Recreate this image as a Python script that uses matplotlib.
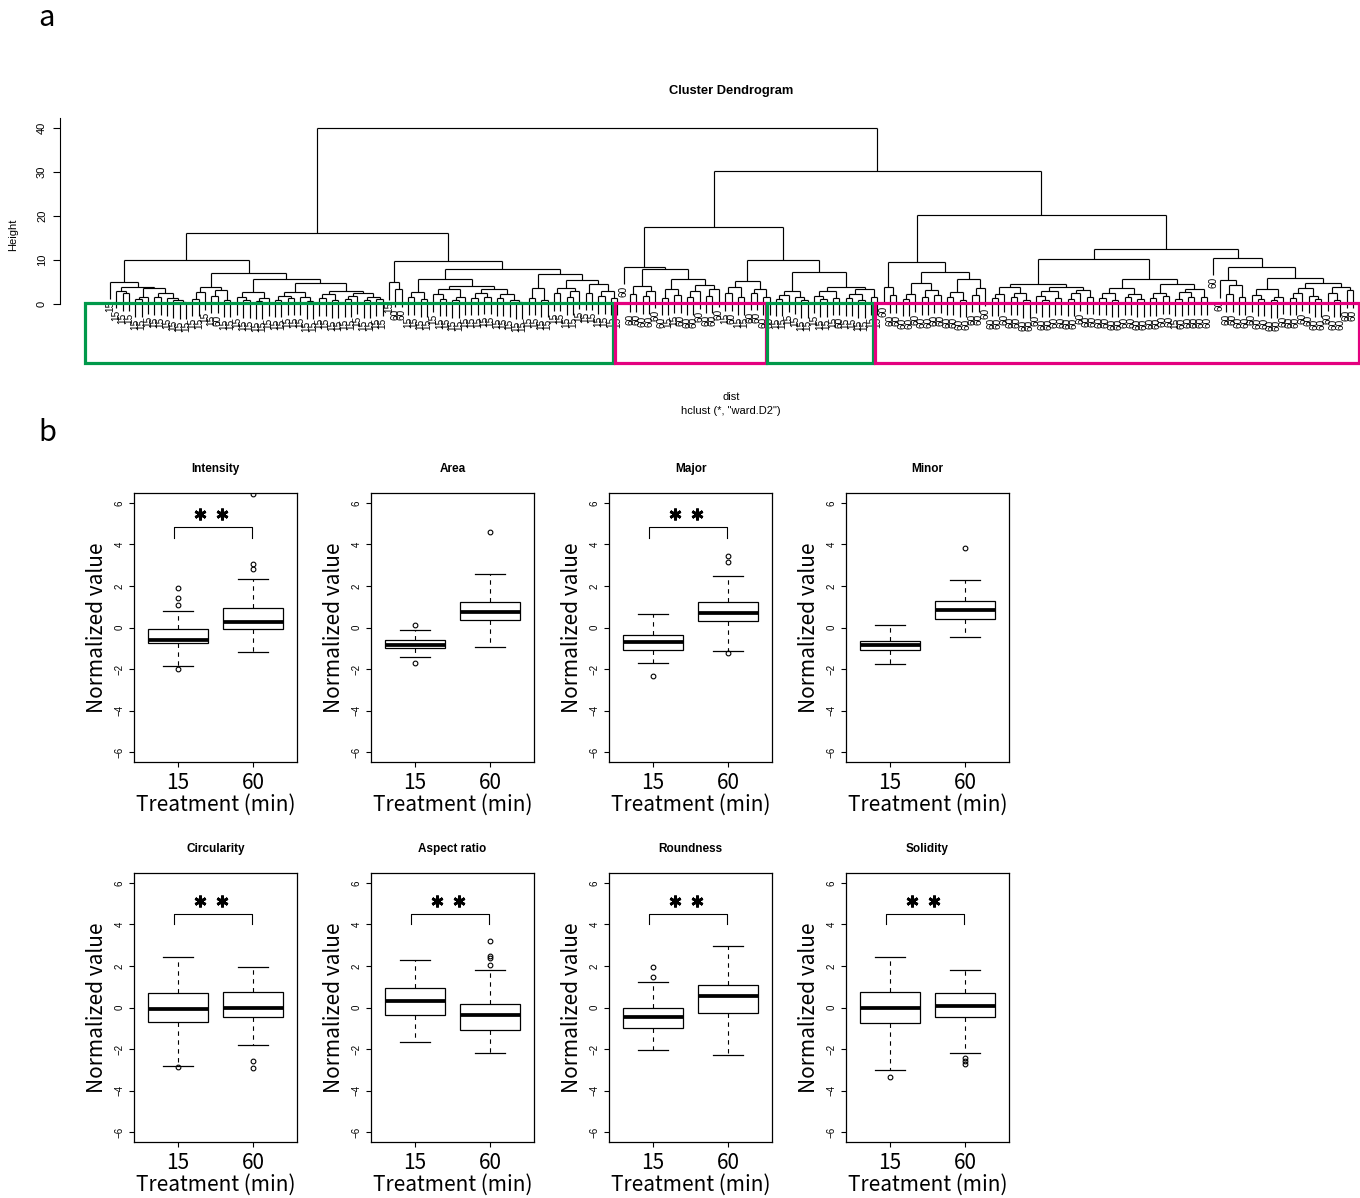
import matplotlib
matplotlib.use("Agg")
import matplotlib.pyplot as plt
from matplotlib.collections import LineCollection
from matplotlib.patches import Rectangle

# ======================= DATA =======================
# --- dendrogram (hclust, "ward.D2"); "(height left right)", leaf a = 15 min, b = 60 min
LLA = "(5.07 a (3.94 (3.03 a (2.4 a a)) (3.6 (1.7 (1.1 a a) a) (2.4 (1.5 a a) (1.3 a (0.8 a (0.5 a a)))))))"
LLB_L = "(3.94 (2.65 (1.2 a a) a) (3.2 (1.9 a b) (1.0 a a)))"
LLB_R = ("(5.68 (2.65 (1.6 a (0.9 a a)) (1.3 (0.6 a a) a)) (4.85 (2.8 (1.9 (1.0 a a) (1.4 a a)) (1.6 a (0.7 a a)))"
         " (3.0 (2.2 (1.3 a a) (0.9 a a)) (2.5 (1.8 (1.1 a a) a) (1.5 (0.8 a a) (1.2 a a))))))")
LRA = "(4.92 a (3.3 b b))"
LRB_L = ("(5.6 (2.65 (1.5 a a) (1.1 a a)) (4.17 (3.5 (2.3 a (1.2 a a)) (1.6 (0.9 a a) a))"
         " (3.3 (2.5 (1.4 a a) (1.7 a a)) (2.2 (1.3 a a) (1.0 a (0.5 a a))))))")
LRB_R = "(6.9 (3.6 (1.4 a a) (1.0 a a)) (5.4 (3.7 (2.4 a a) (2.9 (1.6 a a) a)) (4.6 (2.6 a a) (3.0 (1.8 a a) (1.4 a a)))))"
RLL_A = "(4.17 (2.2 b b) (3.0 (1.8 b b) b))"
RLL_B = "(5.6 (3.3 (1.4 b a) (2.0 a b)) (4.4 (2.9 (1.6 b b) b) (3.3 (1.9 b b) b)))"
RLR_A = "(5.3 (3.9 (2.4 a b) (1.6 a a)) (3.5 (2.6 b b) (1.5 b b)))"
RLR_B = ("(7.35 (3.0 (2.1 (1.2 a a) a) (1.7 a (0.8 a a))) (3.94 (2.9 (1.9 a (1.1 a a)) (1.4 a b))"
         " (3.3 (2.2 (1.3 a a) (0.9 a a)) (1.6 a a))))")
RRL = ("(9.5 (3.95 b (1.95 b b)) (7.27 (4.7 (2.3 (1.2 b b) b) (3.1 (1.6 b b) (2.0 b b)))"
       " (5.6 (2.8 (1.5 b b) (1.0 b b)) (3.6 (2.1 b b) b))))")
RRR_A1 = ("(4.5 (3.8 (2.3 (1.3 b b) b) (2.6 (1.5 b b) (0.9 b b))) (3.94 (3.0 (1.9 b (1.0 b b)) (1.4 b b))"
          " (3.2 (2.4 (1.2 b b) b) (1.7 b b))))")
RRR_A2 = ("(5.76 (3.56 (2.6 (1.4 b b) (1.0 b b)) (2.2 (1.6 b b) (1.1 b b))) (4.5 (2.5 (1.3 b b) (1.8 b b))"
          " (3.4 (2.7 (1.2 a b) (1.6 b b)) (1.5 b b))))")
RRR_B = ("(10.5 b (8.5 (5.45 b (4.4 (2.2 b b) (1.6 b b))) (5.84 (3.3 (2.1 b (1.2 b b)) (1.7 (0.9 b b) b))"
         " (4.7 (3.6 (2.5 (1.4 b b) b) (1.9 b (1.1 b b))) (3.9 (2.4 b (1.0 b b)) (3.1 b b))))))")
TREE = (f"(40.1 (16.1 (9.95 {LLA} (6.97 {LLB_L} {LLB_R})) (9.85 {LRA} (7.88 {LRB_L} {LRB_R})))"
        f" (30.2 (17.6 (8.5 b (7.9 {RLL_A} {RLL_B})) (9.9 {RLR_A} {RLR_B}))"
        f" (20.3 {RRL} (12.4 (10.2 {RRR_A1} {RRR_A2}) {RRR_B}))))")
LEAF_NAMES = {"a": "15", "b": "60"}
HEIGHT_TICKS = [0, 10, 20, 30, 40]
CLUSTER_SIZES = [80, 24, 17, 75]
CLUSTER_COLORS = ["#00994A", "#E4007F", "#00994A", "#E4007F"]

# --- boxplots: (whislo, q1, median, q3, whishi) for 15 and 60 min
FEATURES = ["Intensity", "Area", "Major", "Minor", "Circularity", "Aspect ratio", "Roundness", "Solidity"]
GROUPS = ["15", "60"]
STATS_15 = [(-1.85, -0.74, -0.58, -0.05, 0.80),
            (-1.40, -1.01, -0.82, -0.58, -0.10),
            (-1.70, -1.08, -0.71, -0.34, 0.64),
            (-1.78, -1.06, -0.82, -0.63, 0.10),
            (-2.81, -0.69, -0.08, 0.71, 2.45),
            (-1.65, -0.35, 0.31, 0.95, 2.28),
            (-2.06, -0.98, -0.47, 0.00, 1.24),
            (-3.02, -0.77, -0.03, 0.76, 2.44)]
STATS_60 = [(-1.20, -0.06, 0.26, 0.92, 2.33),
            (-0.92, 0.34, 0.77, 1.25, 2.60),
            (-1.11, 0.29, 0.72, 1.24, 2.46),
            (-0.48, 0.39, 0.82, 1.30, 2.31),
            (-1.79, -0.48, -0.02, 0.73, 1.97),
            (-2.17, -1.06, -0.35, 0.18, 1.80),
            (-2.28, -0.26, 0.53, 1.08, 2.97),
            (-2.17, -0.47, 0.05, 0.69, 1.82)]
FLIERS_15 = [[1.91, 1.41, 1.09, -1.98], [0.14, -1.73], [-2.35], [], [-2.85], [], [1.93, 1.46], [-3.34]]
FLIERS_60 = [[3.07, 2.83, 6.44], [4.58], [3.44, 3.15, -1.22], [3.81], [-2.60, -2.90],
             [3.21, 2.46, 2.39, 2.06], [], [-2.44, -2.60, -2.71]]
SIGNIFICANT = [True, False, True, False, True, True, True, True]
BRACKET_Y = [4.85, None, 4.85, None, 4.52, 4.52, 4.52, 4.52]
YTICKS = [-6, -4, -2, 0, 2, 4, 6]

# ======================= LAYOUT / STYLE =======================
W, H, DPI = 1360, 1198, 100
R_FONT = "Liberation Sans"
BIG_FONT = ["Noto Sans CJK JP", "DejaVu Sans"]
plt.rcParams["font.family"] = [R_FONT, "DejaVu Sans"]

fig = plt.figure(figsize=(W / DPI, H / DPI), dpi=DPI)
fig.patch.set_facecolor("white")


def px_axes(x0, y0, x1, y1):
    return fig.add_axes([x0 / W, 1 - y1 / H, (x1 - x0) / W, (y1 - y0) / H])


def ftext(x, y, s, **kw):
    fig.text(x / W, 1 - y / H, s, **kw)


PT = 72.0 / DPI  # points per pixel


# ---------- parse the tree ----------
def parse(s):
    toks = s.replace("(", " ( ").replace(")", " ) ").split()
    pos = [0]

    def rec():
        t = toks[pos[0]]
        pos[0] += 1
        if t == "(":
            h = float(toks[pos[0]])
            pos[0] += 1
            left = rec()
            right = rec()
            assert toks[pos[0]] == ")"
            pos[0] += 1
            return (h, left, right)
        return t

    return rec()


root = parse(TREE)
HANG = 0.1 * root[0]
leaves, bottoms, segs = [], [], []


def lay(node, parent_h):
    if isinstance(node, str):
        i = len(leaves)
        leaves.append(node)
        b = parent_h - HANG
        bottoms.append(b)
        return float(i), b
    h, l, r = node
    xl, yl = lay(l, h)
    xr, yr = lay(r, h)
    segs.append([(xl, yl), (xl, h)])
    segs.append([(xr, yr), (xr, h)])
    segs.append([(xl, h), (xr, h)])
    return (xl + xr) / 2.0, h


lay(root, None)
N = len(leaves)

# ---------- panel a : dendrogram ----------
LEAF0_PX, LEAFN_PX = 110, 1353
ZERO_PX, PX_PER_H = 304, 4.4
AX_X0, AX_X1, AX_Y0, AX_Y1 = 60, 1360, 100, 430
sp = (LEAFN_PX - LEAF0_PX) / (N - 1)
axd = px_axes(AX_X0, AX_Y0, AX_X1, AX_Y1)
axd.set_xlim((AX_X0 - LEAF0_PX) / sp, (AX_X1 - LEAF0_PX) / sp)
axd.set_ylim((ZERO_PX - AX_Y1) / PX_PER_H, (ZERO_PX - AX_Y0) / PX_PER_H)
axd.add_collection(LineCollection(segs, colors="black", linewidths=0.85))
for i, (lab, b) in enumerate(zip(leaves, bottoms)):
    axd.text(i, b - 0.4, LEAF_NAMES[lab], rotation=90, ha="center", va="top",
             fontsize=7.2, family=R_FONT)
for sname in ["top", "right", "bottom"]:
    axd.spines[sname].set_visible(False)
axd.spines["left"].set_bounds(0, 42.2)
axd.spines["left"].set_linewidth(0.8)
axd.set_xticks([])
axd.set_yticks(HEIGHT_TICKS)
axd.set_yticklabels([str(t) for t in HEIGHT_TICKS], rotation=90, va="center", fontsize=8)
axd.tick_params(axis="y", length=7.5 * PT, width=0.8, pad=4)
axd.patch.set_alpha(0)

# cluster boxes
edges = [-0.5]
for s in CLUSTER_SIZES:
    edges.append(edges[-1] + s)
edges[0] = (85 - LEAF0_PX) / sp
edges[-1] = (1359 - LEAF0_PX) / sp
box_top, box_bot = 0.25, -13.4
for k, col in enumerate(CLUSTER_COLORS):
    x0 = edges[k] if k == 0 else edges[k] + 0.12
    x1 = edges[k + 1] - (0.12 if k < len(CLUSTER_COLORS) - 1 else 0)
    axd.add_patch(Rectangle((x0, box_bot), x1 - x0, box_top - box_bot, fill=False,
                            edgecolor=col, linewidth=2.3, clip_on=False, zorder=5))

ftext(731, 91, "Cluster Dendrogram", ha="center", va="center", fontsize=9.3, fontweight="bold")
ftext(13, 235, "Height", ha="center", va="center", rotation=90, fontsize=8)
ftext(731, 397, "dist", ha="center", va="center", fontsize=8)
ftext(731, 411, 'hclust (*, "ward.D2")', ha="center", va="center", fontsize=8)
ftext(47, 18, "a", ha="center", va="center", fontsize=21, family=BIG_FONT)
ftext(47, 433, "b", ha="center", va="center", fontsize=21, family=BIG_FONT)

# ---------- panel b : boxplots ----------
COL_X = [134, 371, 609, 846]
ROW_Y = [493, 873]
BW, BH = 163, 269
for k, feat in enumerate(FEATURES):
    x0 = COL_X[k % 4]
    y0 = ROW_Y[k // 4]
    ax = px_axes(x0, y0, x0 + BW, y0 + BH)
    stats = []
    for g, st, fl in ((GROUPS[0], STATS_15[k], FLIERS_15[k]), (GROUPS[1], STATS_60[k], FLIERS_60[k])):
        stats.append(dict(whislo=st[0], q1=st[1], med=st[2], q3=st[3], whishi=st[4], fliers=fl, label=g))
    ax.bxp(stats, positions=[1, 2], widths=0.8, capwidths=0.4, patch_artist=True, showfliers=True,
           boxprops=dict(facecolor="white", edgecolor="black", linewidth=0.9),
           medianprops=dict(color="black", linewidth=2.7, solid_capstyle="butt"),
           whiskerprops=dict(color="black", linewidth=0.8, linestyle=(0, (4, 4))),
           capprops=dict(color="black", linewidth=0.9),
           flierprops=dict(marker="o", markersize=3.4, markerfacecolor="none",
                           markeredgecolor="black", markeredgewidth=0.8))
    ax.set_xlim(0.42, 2.58)
    ax.set_ylim(-6.48, 6.48)
    ax.set_yticks(YTICKS)
    ax.set_yticklabels([str(t).replace("-", "\u2212") for t in YTICKS], rotation=90, va="center", fontsize=7)
    ax.set_xticks([1, 2])
    ax.set_xticklabels([])
    ax.tick_params(axis="both", length=5 * PT, width=0.8, pad=3)
    for sp_ in ax.spines.values():
        sp_.set_linewidth(0.9)
    for i, g in enumerate(GROUPS):
        ax.annotate(g, xy=(i + 1, 0), xycoords=("data", "axes fraction"), xytext=(0, -21 * PT),
                    textcoords="offset points", ha="center", va="center", fontsize=15, family=BIG_FONT)
    ax.annotate("Treatment (min)", xy=(0.5, 0), xycoords="axes fraction", xytext=(0, -43 * PT),
                textcoords="offset points", ha="center", va="center", fontsize=15, family=BIG_FONT)
    ax.annotate("Normalized value", xy=(0, 0.5), xycoords="axes fraction", xytext=(-37 * PT, 0),
                textcoords="offset points", ha="center", va="center", rotation=90, fontsize=15,
                family=BIG_FONT)
    ax.annotate(feat, xy=(0.5, 1), xycoords="axes fraction", xytext=(0, 24 * PT),
                textcoords="offset points", ha="center", va="center", fontsize=8.5, fontweight="bold")
    if SIGNIFICANT[k]:
        by = BRACKET_Y[k]
        leg = 0.52
        ax.plot([0.95, 0.95, 1.98, 1.98], [by - leg, by, by, by - leg], color="black", lw=0.8)
        ax.plot([1.29, 1.58], [by + 0.6, by + 0.6], ls="none", marker=(6, 2, 0), ms=8.5,
                mew=2.0, color="black")

fig.savefig("out.png", dpi=DPI, facecolor="white")
